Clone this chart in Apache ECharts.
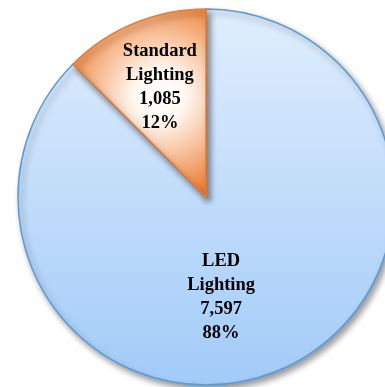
<!DOCTYPE html>
<html>
<head>
<meta charset="utf-8">
<script src="https://cdn.jsdelivr.net/npm/echarts@6/dist/echarts.min.js"></script>
<style>
  html, body { margin: 0; padding: 0; background: #ffffff; }
  #chart { width: 385px; height: 387px; }
</style>
</head>
<body>
<div id="chart"></div>
<script>
// Energy use by lighting type
const categories = ['LED Lighting', 'Standard Lighting'];
const values = [7597, 1085];

const fills = [
  { type: 'linear', x: 0, y: 0, x2: 0, y2: 1,
    colorStops: [{ offset: 0, color: '#e0eefd' }, { offset: 1, color: '#a2cbf8' }] },
  { type: 'radial', x: 0.65, y: 0.46, r: 0.78,
    colorStops: [{ offset: 0, color: '#ffffff' }, { offset: 0.25, color: '#fff7f0' }, { offset: 1, color: '#ed7b2e' }] }
];
const borders = ['#5b9bd5', '#ed7d31'];
// nudges that move each label from the slice mid-radius to its spot
const labelShift = [[-22, 11], [-9, -20]];

const chart = echarts.init(document.getElementById('chart'), null, { renderer: 'canvas' });
chart.setOption({
  animation: false,
  series: [{
    type: 'pie',
    center: [206, 197],
    radius: 188,
    startAngle: 90,
    clockwise: true,
    percentPrecision: 0,
    data: categories.map((name, i) => ({
      name: name,
      value: values[i],
      itemStyle: {
        color: fills[i],
        borderColor: borders[i],
        borderWidth: 1.5,
        shadowColor: 'rgba(0,0,0,0.4)',
        shadowBlur: 6,
        shadowOffsetX: 3,
        shadowOffsetY: 4
      }
    })),
    label: {
      show: true,
      position: 'inside',
      fontFamily: 'Liberation Serif',
      fontWeight: 'bold',
      fontSize: 18.5,
      lineHeight: 24,
      color: '#000000',
      align: 'center',
      formatter: p => p.name.split(' ').join('\n') + '\n' +
        p.value.toLocaleString('en-US') + '\n' + p.percent + '%'
    },
    labelLayout: p => ({ dx: labelShift[p.dataIndex][0], dy: labelShift[p.dataIndex][1] }),
    labelLine: { show: false },
    emphasis: { disabled: true }
  }]
});
</script>
</body>
</html>
